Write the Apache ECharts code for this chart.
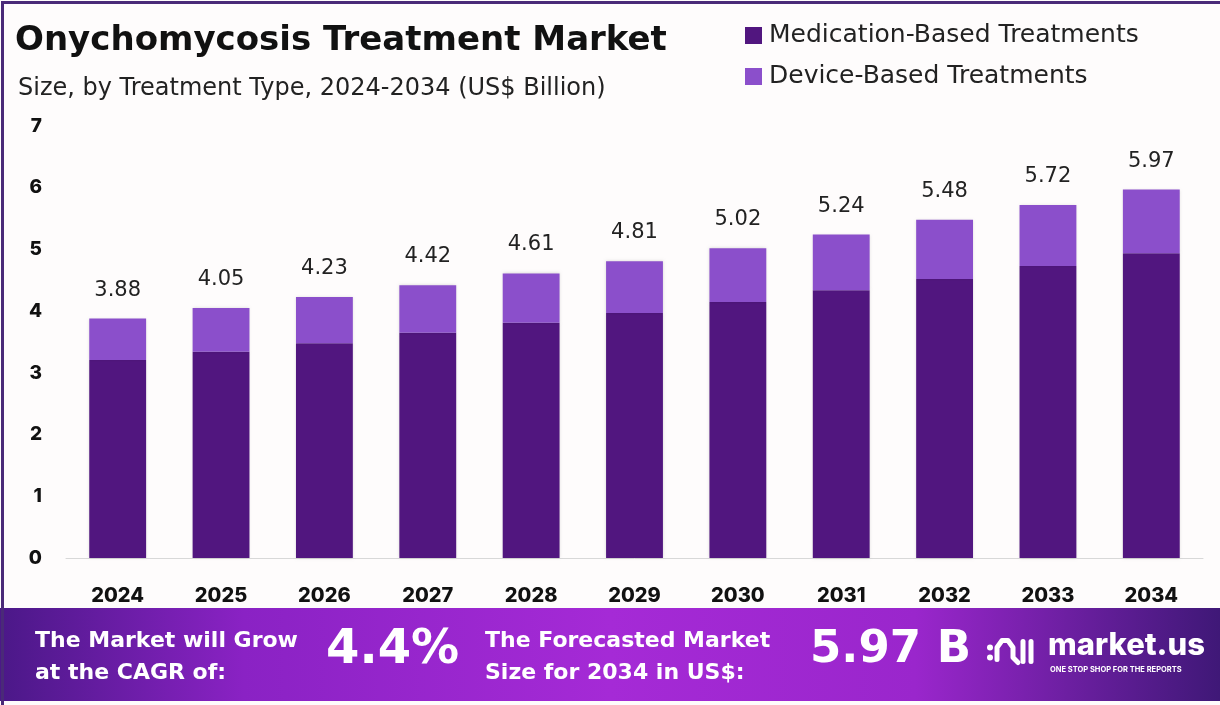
<!DOCTYPE html>
<html><head><meta charset="utf-8">
<script src="https://cdn.jsdelivr.net/npm/echarts@6/dist/echarts.min.js"></script>
<style>html,body{margin:0;padding:0;background:#fff}#c{width:1220px;height:705px}</style>
</head><body><div id="c"></div>
<script>
const years = ['2024','2025','2026','2027','2028','2029','2030','2031','2032','2033','2034'];
const totals = [3.88,4.05,4.23,4.42,4.61,4.81,5.02,5.24,5.48,5.72,5.97];
const medication = [3.21,3.34,3.48,3.65,3.81,3.97,4.15,4.34,4.52,4.73,4.94];
const device = [0.67,0.71,0.75,0.77,0.80,0.84,0.87,0.90,0.96,0.99,1.03];
const yTicks = [0,1,2,3,4,5,6,7];

const F = 'Inter, "Open Sans", sans-serif';
const W = '"DejaVu Sans", sans-serif';
const chart = echarts.init(document.getElementById('c'));
chart.setOption({
  backgroundColor: '#fefcfc',
  animation: false,
  title: [
    {text: 'Onychomycosis Treatment Market', left: 10, top: 19,
     textStyle: {fontFamily: W, fontWeight: 700, fontSize: 34, color: '#111'}},
    {text: 'Size, by Treatment Type, 2024-2034 (US$ Billion)', left: 13, top: 72,
     textStyle: {fontFamily: W, fontWeight: 400, fontSize: 24, color: '#222'}}
  ],
  legend: {
    orient: 'vertical', left: 740, top: 18, itemGap: 16, itemWidth: 17, itemHeight: 17,
    icon: 'rect',
    textStyle: {fontFamily: W, fontSize: 25, color: '#222', padding: [0,0,0,2]},
    data: ['Medication-Based Treatments','Device-Based Treatments']
  },
  grid: {left: 66, right: 17, top: 126, bottom: 147},
  xAxis: {
    type: 'category', data: years,
    axisLine: {lineStyle: {color: '#d8d8d8', width: 1}},
    axisTick: {show: false},
    axisLabel: {margin: 28, fontFamily: F, fontWeight: 800, fontSize: 20, color: '#111'}
  },
  yAxis: {
    type: 'value', min: 0, max: 7, interval: 1,
    splitLine: {show: false},
    axisLine: {show: false}, axisTick: {show: false},
    axisLabel: {margin: 24, fontFamily: F, fontWeight: 800, fontSize: 19, color: '#111',
      formatter: v => yTicks.includes(v) ? String(v) : ''}
  },
  series: [
    {name: 'Medication-Based Treatments', type: 'bar', stack: 't', data: medication,
     barWidth: '55%', itemStyle: {color: '#51167f', shadowColor: 'rgba(0,0,0,0.15)', shadowBlur: 3}},
    {name: 'Device-Based Treatments', type: 'bar', stack: 't', data: device,
     barWidth: '55%', itemStyle: {color: '#8b4fcb', shadowColor: 'rgba(0,0,0,0.15)', shadowBlur: 3},
     label: {show: true, position: 'top', distance: 18, fontFamily: W, fontSize: 21, color: '#222',
       formatter: p => totals[p.dataIndex].toFixed(2)}}
  ],
  graphic: [
    {type: 'rect', left: 0, top: 608, shape: {width: 1220, height: 93},
     style: {fill: {type: 'linear', x: 0, y: 0, x2: 1, y2: 0, colorStops: [
       {offset: 0, color: '#4b1888'}, {offset: 0.2, color: '#8a22c4'}, {offset: 0.5, color: '#a52ad6'},
       {offset: 0.75, color: '#9a26cc'}, {offset: 1, color: '#3f1877'}]}}},
    {type: 'text', left: 35, top: 625, style: {text: 'The Market will Grow\nat the CAGR of:', fill: '#fff',
      font: '700 22px ' + W, lineHeight: 32}},
    {type: 'text', left: 326, top: 627, style: {text: '4.4%', fill: '#fff', font: '700 48px ' + W,
      shadowColor: 'rgba(0,0,0,0.35)', shadowBlur: 4, shadowOffsetX: 2, shadowOffsetY: 2}},
    {type: 'text', left: 485, top: 625, style: {text: 'The Forecasted Market\nSize for 2034 in US$:', fill: '#fff',
      font: '700 22px ' + W, lineHeight: 32}},
    {type: 'text', left: 810, top: 628, style: {text: '5.97 B', fill: '#fff', font: '700 45px ' + W,
      shadowColor: 'rgba(0,0,0,0.35)', shadowBlur: 4, shadowOffsetX: 2, shadowOffsetY: 2}},
    {type: 'group', left: 987, top: 638, children: [
      {type: 'circle', shape: {cx: 3, cy: 12, r: 3}, style: {fill: '#fff'}},
      {type: 'circle', shape: {cx: 3, cy: 22, r: 3}, style: {fill: '#fff'}},
      {type: 'polyline', shape: {points: [[10,24],[10,12],[15,5],[21,5],[26,12],[26,22],[31,27]]},
       style: {stroke: '#fff', lineWidth: 5, fill: null, lineCap: 'round', lineJoin: 'round'}},
      {type: 'line', shape: {x1: 36, y1: 6, x2: 36, y2: 26}, style: {stroke: '#fff', lineWidth: 5, lineCap: 'round'}},
      {type: 'line', shape: {x1: 44, y1: 6, x2: 44, y2: 26}, style: {stroke: '#fff', lineWidth: 5, lineCap: 'round'}}
    ]},
    {type: 'text', left: 1048, top: 630, style: {text: 'market.us', fill: '#fff', font: '800 31px ' + F}},
    {type: 'text', left: 1050, top: 666, style: {text: 'ONE STOP SHOP FOR THE REPORTS', fill: '#fff', font: '700 7.5px ' + F}},
    {type: 'rect', left: 0, top: 0, shape: {width: 1220, height: 705},
     style: {fill: null, stroke: '#4a2a78', lineWidth: 3}}
  ]
});
</script></body></html>
